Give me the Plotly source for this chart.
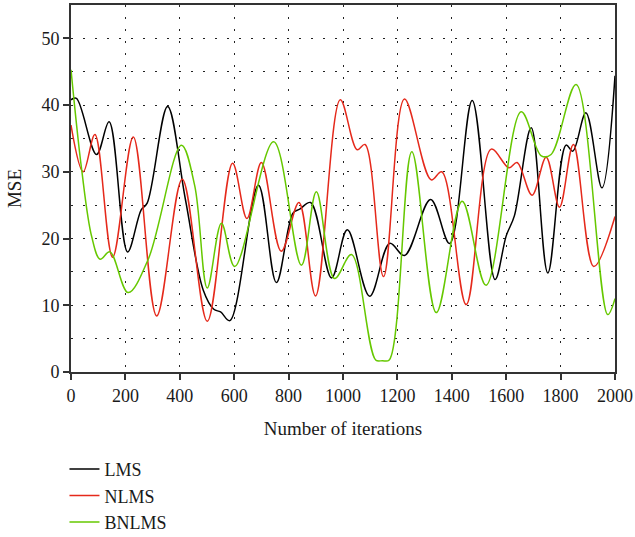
import plotly.graph_objects as go

# ---- data ----
lms_x = [0, 20, 94, 140, 208, 258, 280, 355, 420, 486, 525, 550, 584, 689, 755, 816, 841, 881,
         958, 1016, 1098, 1172, 1226, 1322, 1392, 1475, 1559, 1600, 1630, 1692, 1753, 1820,
         1845, 1893, 1952, 2000]
lms_y = [40.8, 41, 32.6, 37.5, 18, 24.3, 25.3, 39.8, 26, 12.3, 9.4, 9.0, 7.7, 28, 13.4, 23.8, 24.4, 25.4,
         14.1, 21.3, 11.35, 19.3, 17.45, 25.85, 19.25, 40.7, 13.85, 20.4, 23.4, 36.6, 14.85, 34,
         33.1, 38.85, 27.6, 44.4]

nlms_x = [0, 45, 88, 153, 229, 315, 409, 501, 594, 647, 700, 773, 838, 899, 990, 1052, 1081,
          1149, 1226, 1324, 1363, 1453, 1545, 1610, 1640, 1695, 1747, 1796, 1847, 1922, 2000]
nlms_y = [37, 30, 35.6, 17.2, 35.2, 8.4, 28.9, 7.6, 31.3, 23, 31.4, 18.1, 25.4, 11.4, 40.8, 33.3, 34.1,
          14.3, 40.9, 28.8, 30, 10.1, 33.4, 30.6, 31.4, 26.5, 32.2, 24.7, 34.1, 15.8, 23.3]

bnlms_x = [0, 39, 76, 107, 143, 210, 284, 406, 455, 501, 553, 602, 745, 847, 902, 969, 1031,
           1120, 1145, 1170, 1253, 1343, 1438, 1526, 1655, 1729, 1765, 1857, 1973, 2000]
bnlms_y = [45.3, 30.4, 20.3, 16.9, 18, 11.9, 16.9, 34, 27.9, 12.6, 22.3, 15.8, 34.5, 16, 27, 14, 17.6,
           1.8, 1.7, 1.8, 33, 8.9, 25.6, 13, 39, 32.4, 32.6, 43.1, 8.6, 11]

x_ticks = [0, 200, 400, 600, 800, 1000, 1200, 1400, 1600, 1800, 2000]
y_ticks = [0, 10, 20, 30, 40, 50]

FONT = "Liberation Serif"

fig = go.Figure()
for name, xs, ys, col in [("LMS", lms_x, lms_y, "#000000"),
                          ("NLMS", nlms_x, nlms_y, "#e5291b"),
                          ("BNLMS", bnlms_x, bnlms_y, "#66c800")]:
    fig.add_trace(go.Scatter(x=xs, y=ys, mode="lines", name=name,
                             line=dict(color=col, width=1.5, shape="spline", smoothing=1.0)))

grid = dict(showgrid=True, gridcolor="#222222", gridwidth=1, griddash="2px,10px")

fig.update_layout(
    width=635, height=537,
    margin=dict(l=71, r=20, t=5, b=165, autoexpand=False),
    paper_bgcolor="white", plot_bgcolor="white",
    font=dict(family=FONT, size=18, color="#1a1a1a"),
    showlegend=True,
    legend=dict(x=-0.012, y=-0.215, xanchor="left", yanchor="top",
                font=dict(family=FONT, size=18), bgcolor="rgba(0,0,0,0)",
                tracegroupgap=0, itemwidth=30),
    xaxis=dict(range=[0, 2000], tickvals=x_ticks, ticks="outside", ticklen=6, tickwidth=1.5,
               tickcolor="#333333", showline=True, linecolor="#333333", linewidth=2, mirror=True,
               zeroline=False, automargin=False,
               title=dict(text="Number of iterations", standoff=17, font=dict(size=19)),
               **grid),
    yaxis=dict(range=[0, 55], tickvals=y_ticks, ticks="outside", ticklen=6, tickwidth=1.5,
               tickcolor="#333333", showline=True, linecolor="#333333", linewidth=2, mirror=True,
               zeroline=False, automargin=False,
               title=dict(text="MSE", standoff=15, font=dict(size=19)),
               minor=dict(dtick=5, tick0=0, showgrid=True, gridcolor="#222222", gridwidth=1,
                          griddash="2px,10px", ticks=""),
               **grid),
)

fig.write_html("out.html", config={"displayModeBar": False},
               post_script="document.body.style.margin='0';")
